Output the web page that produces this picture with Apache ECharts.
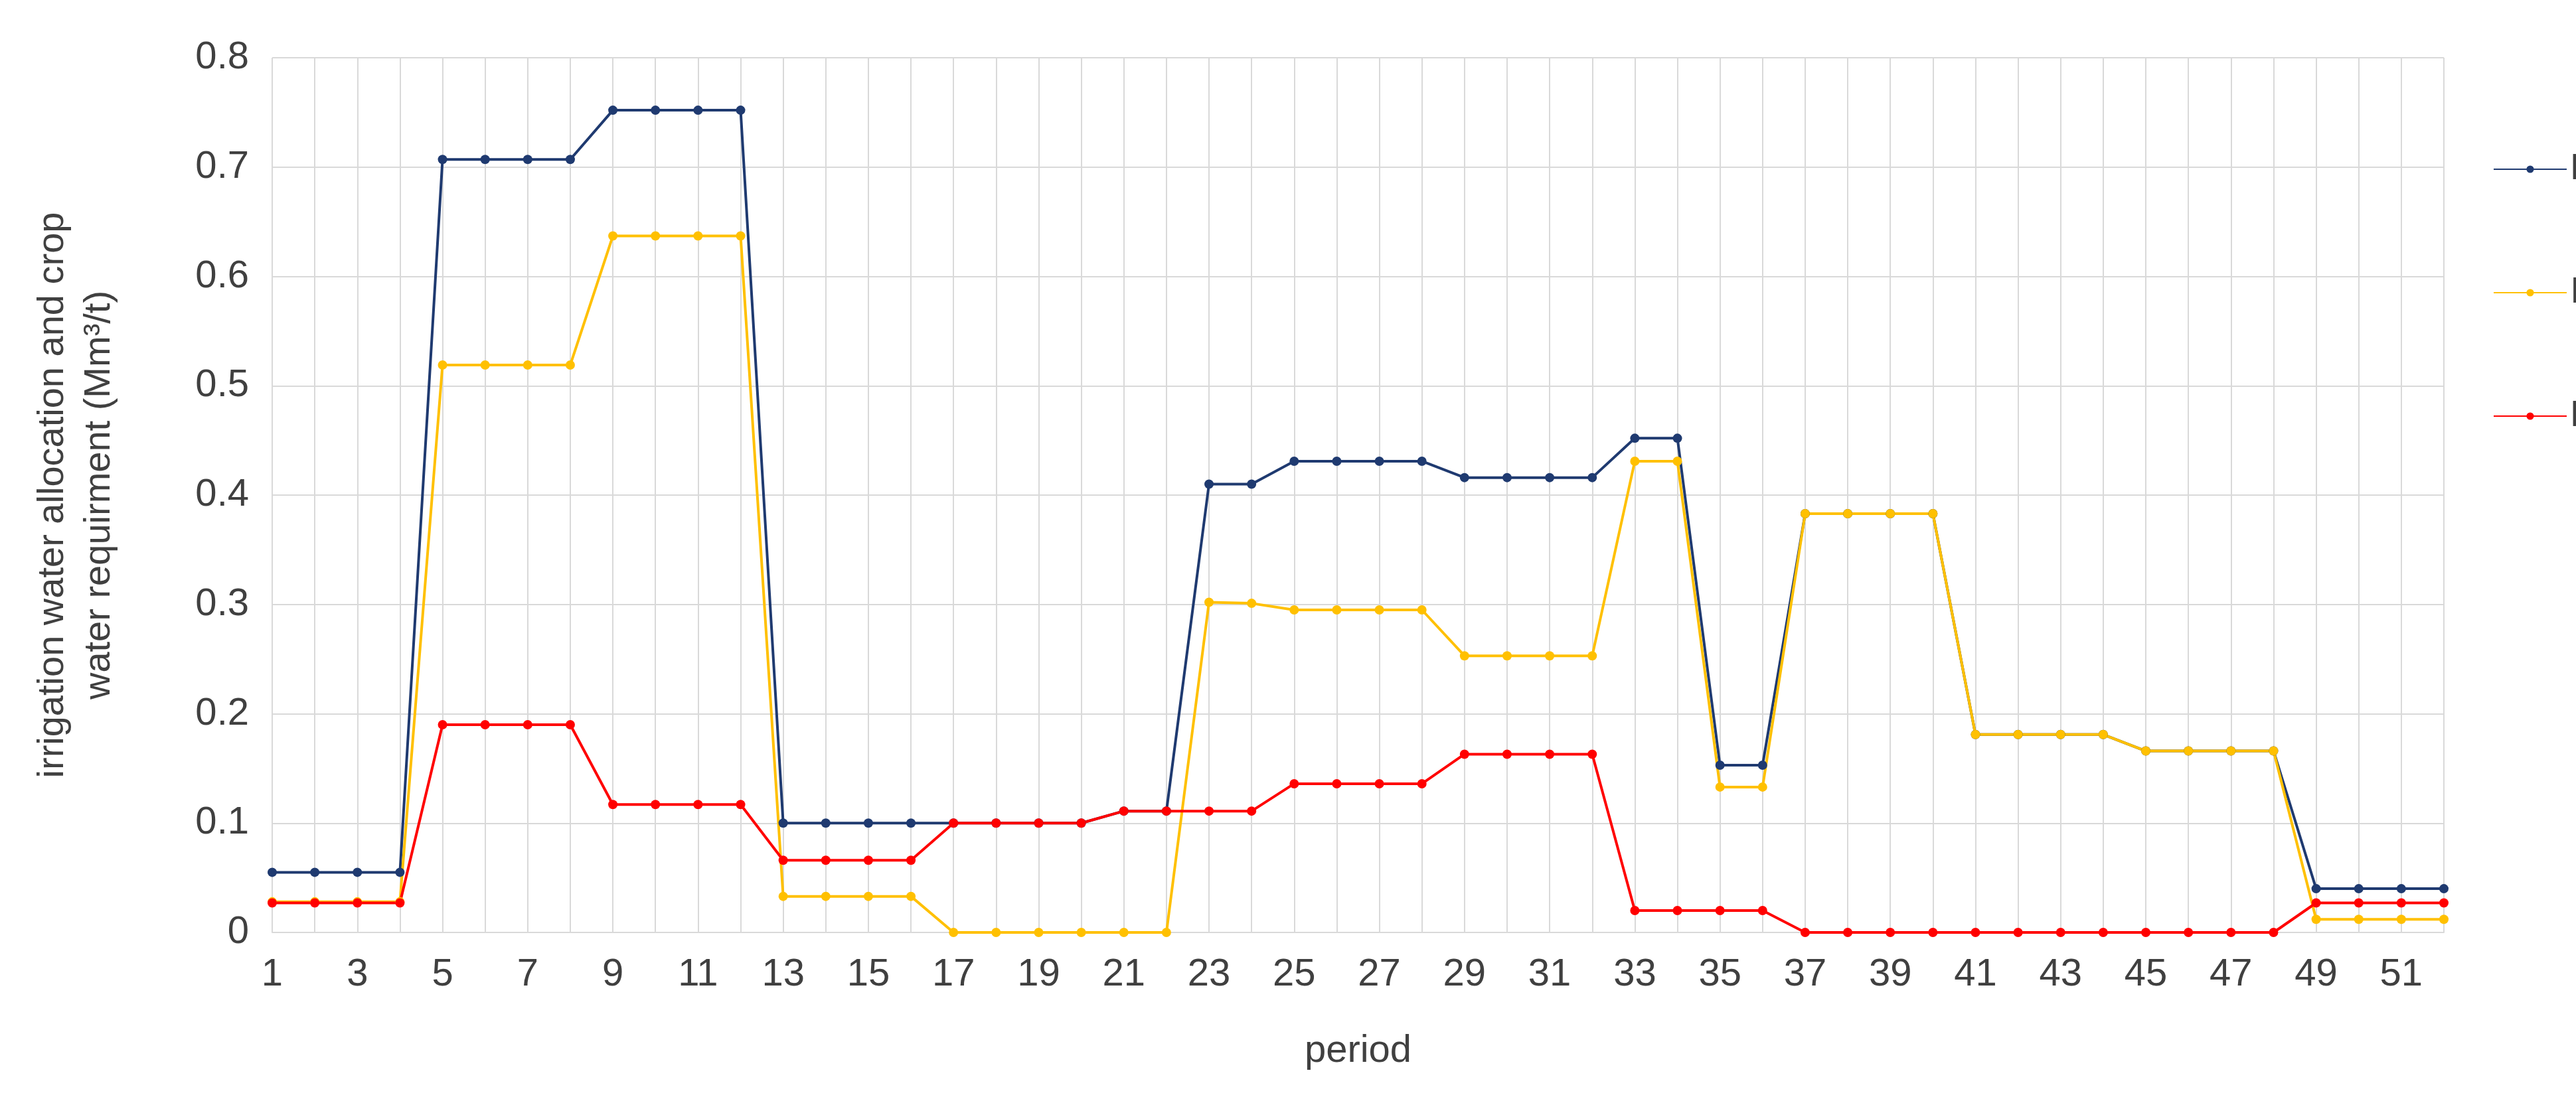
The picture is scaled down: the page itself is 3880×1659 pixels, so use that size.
<!DOCTYPE html><html><head><meta charset="utf-8"><script src="https://cdn.jsdelivr.net/npm/echarts@6/dist/echarts.min.js"></script>
<style>html,body{margin:0;background:#fff}#c{width:3880px;height:1659px}</style></head><body><div id="c"></div><script>
const periods = Array.from({length:52},(_, i)=>String(i+1));
const FCWR_F3 = [0.055,0.055,0.055,0.055,0.707,0.707,0.707,0.707,0.752,0.752,0.752,0.752,0.1,0.1,0.1,0.1,0.1,0.1,0.1,0.1,0.111,0.111,0.41,0.41,0.431,0.431,0.431,0.431,0.416,0.416,0.416,0.416,0.452,0.452,0.153,0.153,0.383,0.383,0.383,0.383,0.181,0.181,0.181,0.181,0.166,0.166,0.166,0.166,0.04,0.04,0.04,0.04];
const IRR_F3 = [0.028,0.028,0.028,0.028,0.519,0.519,0.519,0.519,0.637,0.637,0.637,0.637,0.033,0.033,0.033,0.033,0,0,0,0,0,0,0.302,0.301,0.295,0.295,0.295,0.295,0.253,0.253,0.253,0.253,0.431,0.431,0.133,0.133,0.383,0.383,0.383,0.383,0.181,0.181,0.181,0.181,0.166,0.166,0.166,0.166,0.012,0.012,0.012,0.012];
const FRW_F3 = [0.027,0.027,0.027,0.027,0.19,0.19,0.19,0.19,0.117,0.117,0.117,0.117,0.066,0.066,0.066,0.066,0.1,0.1,0.1,0.1,0.111,0.111,0.111,0.111,0.136,0.136,0.136,0.136,0.163,0.163,0.163,0.163,0.02,0.02,0.02,0.02,0,0,0,0,0,0,0,0,0,0,0,0,0.027,0.027,0.027,0.027];
const font = 'Liberation Sans, Arial, sans-serif';
const mk = (name, data, color) => ({name, type:'line', data, color, symbol:'circle', symbolSize:14,
  lineStyle:{width:4,color}, itemStyle:{color}});
echarts.init(document.getElementById('c')).setOption({
  animation:false,
  grid:{left:410,right:3880-3681,top:87,bottom:1659-1405},
  legend:{orient:'vertical',left:3750,top:222,itemGap:130,itemWidth:110,itemHeight:14,
    textStyle:{fontFamily:font,fontSize:56,color:'#404040'},data:['FCWR_F3','IRR_F3','FRW_F3']},
  xAxis:{type:'category',boundaryGap:false,data:periods,name:'period',nameLocation:'middle',nameGap:150,
    nameTextStyle:{fontFamily:font,fontSize:58,color:'#404040'},
    axisLine:{lineStyle:{color:'#d9d9d9',width:2}},axisTick:{show:false},
    axisLabel:{interval:1,fontFamily:font,fontSize:58,color:'#404040',margin:35},
    splitLine:{show:true,interval:0,lineStyle:{color:'#d9d9d9',width:2}}},
  yAxis:{type:'value',min:0,max:0.8,interval:0.1,
    name:'irrigation water allocation and crop\nwater requirment (Mm³/t)',nameLocation:'middle',nameGap:225,
    nameTextStyle:{fontFamily:font,fontSize:56,color:'#404040',lineHeight:70},
    axisLabel:{fontFamily:font,fontSize:58,color:'#404040',margin:35,formatter:v=>String(+v.toFixed(1))},
    axisLine:{show:false},axisTick:{show:false},
    splitLine:{lineStyle:{color:'#d9d9d9',width:2}}},
  series:[mk('FCWR_F3',FCWR_F3,'#1f3a70'),mk('IRR_F3',IRR_F3,'#ffc000'),mk('FRW_F3',FRW_F3,'#ff0000')]
});
</script></body></html>
